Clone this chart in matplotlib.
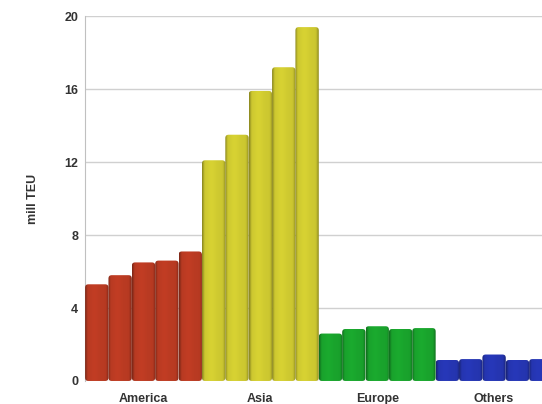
import numpy as np
import matplotlib
matplotlib.use("Agg")
from matplotlib import pyplot as plt
from matplotlib.patches import FancyBboxPatch

# container throughput per region, five years each (mill TEU)
regions = ["America", "Asia", "Europe", "Others"]
america = [5.3, 5.8, 6.5, 6.6, 7.1]
asia = [12.1, 13.5, 15.9, 17.2, 19.4]
europe = [2.6, 2.85, 3.0, 2.85, 2.9]
others = [1.15, 1.2, 1.45, 1.15, 1.2]
yticks = [0, 4, 8, 12, 16, 20]

colors = ["#b83a22", "#cdc830", "#19a22c", "#2535b0"]

plt.rcParams['font.family'] = ['Liberation Sans Narrow', 'Liberation Sans', 'DejaVu Sans']

fig = plt.figure(figsize=(5.42, 4.04), dpi=100)
ax = fig.add_axes([0.157, 0.057, 0.843, 0.903])

# horizontal brightness profile: flat body, darker rims
u = np.linspace(0, 1, 64)
shade = 1.0 - 0.32 * np.exp(-(u / 0.07) ** 2) - 0.28 * np.exp(-((1 - u) / 0.08) ** 2) \
    + 0.05 * np.exp(-((u - 0.4) / 0.2) ** 2)


def cylinder(ax, x, h, color):
    base = np.array(matplotlib.colors.to_rgb(color))
    img = np.clip(base[None, :] * shade[:, None], 0, 1)[None, :, :]
    box = FancyBboxPatch((x - 0.5, 0), 1, h, boxstyle="round,pad=0,rounding_size=0.14",
                         mutation_aspect=1.3, facecolor="none", edgecolor="none")
    ax.add_patch(box)
    im = ax.imshow(img, extent=(x - 0.5, x + 0.5, 0, h), aspect="auto",
                   interpolation="bilinear", zorder=3)
    im.set_clip_path(box)


series = [america, asia, europe, others]
pos = 0
centers = []
for vals, col in zip(series, colors):
    start = pos
    for v in vals:
        cylinder(ax, pos, v, col)
        pos += 1
    centers.append((start + pos - 1) / 2)

ax.set_xlim(-0.5, 19.05)
ax.set_ylim(0, 20)
ax.set_yticks(yticks)
ax.set_yticklabels([str(t) for t in yticks], fontsize=9, fontweight="bold", color="#333333")
ax.set_xticks(centers)
ax.set_xticklabels(regions, fontsize=9, fontweight="bold", color="#333333")
ax.tick_params(axis="y", length=0, pad=5)
ax.tick_params(axis="x", length=0, pad=9)
ax.yaxis.grid(True, color="#d0d0d0", linewidth=1)
ax.set_axisbelow(True)
for s in ["top", "right", "bottom"]:
    ax.spines[s].set_visible(False)
ax.spines["left"].set_color("#c0c0c0")
ax.set_ylabel("mill TEU", fontsize=9, fontweight="bold", color="#333333", labelpad=18)

fig.savefig("out.png", dpi=100)
